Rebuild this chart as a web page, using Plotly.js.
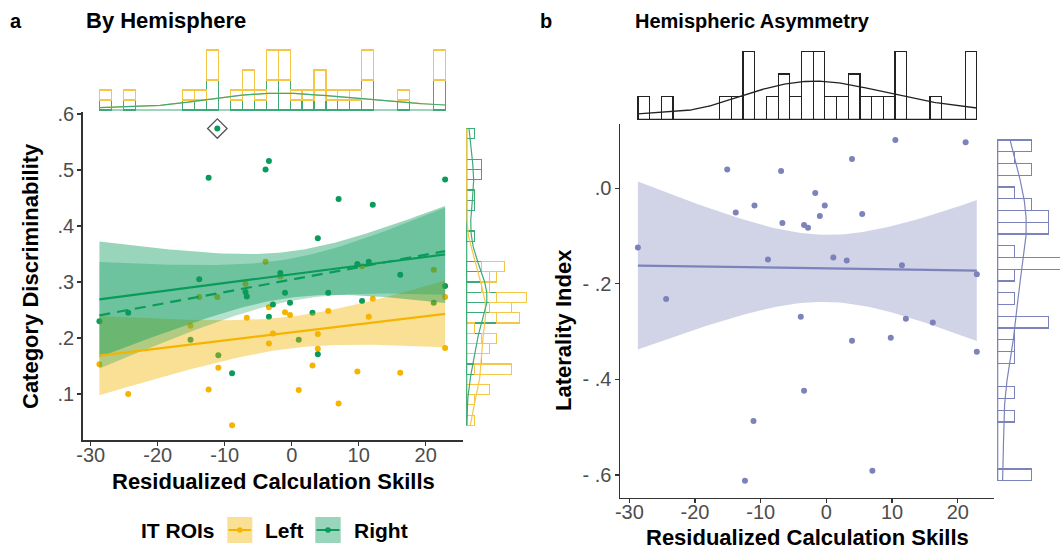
<!DOCTYPE html>
<html><head><meta charset="utf-8">
<script src="https://cdn.plot.ly/plotly-3.0.1.min.js"></script>
<style>html,body{margin:0;padding:0;background:#fff}#chart{width:1060px;height:551px}</style>
</head><body><div id="chart"></div>
<script>
// ---------------- data ----------------
const calcSkills = [-28.7,-24.4,-15.1,-13.8,-12.4,-11.1,-10.95,-8.9,-6.9,-6.7,-3.9,-3.4,-3.4,-2.8,-1.7,-1.0,-0.25,1.05,3.1,3.9,3.9,5.45,7.0,9.8,10.5,11.5,12.1,16.2,21.2,22.9,22.9];
const leftIT  = [0.153,0.100,0.222,0.273,0.108,0.273,0.147,0.044,0.297,0.236,0.336,0.255,0.190,0.208,0.310,0.246,0.241,0.107,0.151,0.207,0.181,0.248,0.083,0.140,0.328,0.238,0.270,0.138,0.322,0.273,0.182];
const rightIT = [0.230,0.245,0.197,0.305,0.486,0.574,0.169,0.137,0.282,0.274,0.501,0.516,0.238,0.260,0.316,0.281,0.263,0.197,0.245,0.171,0.378,0.281,0.448,0.332,0.266,0.336,0.438,0.313,0.263,0.293,0.483];
const laterality = [-0.124,-0.232,0.039,-0.051,-0.612,-0.487,-0.036,-0.149,0.036,-0.073,-0.269,-0.424,-0.077,-0.083,-0.010,-0.058,-0.036,-0.145,-0.151,0.061,-0.319,-0.054,-0.591,-0.313,0.101,-0.161,-0.273,-0.281,0.096,-0.180,-0.342];
const outlierIndex = 5;
const groupNames = ['Left','Right'];
const xTickVals = [-30,-20,-10,0,10,20];
const xTickText = ['-30','-20','-10','0','10','20'];
const discTickVals = [0.1,0.2,0.3,0.4,0.5,0.6];
const discTickText = ['.1','.2','.3','.4','.5','.6'];
const liTickVals = [0,-0.2,-0.4,-0.6];
const liTickText = ['.0','- .2','- .4','- .6'];
const nBins = 29;

// ---------------- styling ----------------
const YEL = '#F4B400', GRN = '#0A9B5B', LAV = '#7C83BA';
const YEL_RIB = 'rgba(244,180,0,0.42)', GRN_RIB = 'rgba(10,155,91,0.42)', LAV_RIB = 'rgba(124,131,186,0.35)';
const YEL_OUT = '#F6C646', GRN_OUT = '#3DAA78';
const FONT = 'Liberation Sans, Arial, Helvetica, sans-serif';
const W = 1060, H = 551;
const fx = p => p / W, fy = p => 1 - p / H;

// ---------------- stats helpers ----------------
const mean = a => a.reduce((s, v) => s + v, 0) / a.length;
function quantile7(a, p) { const s = [...a].sort((u, v) => u - v); const h = (s.length - 1) * p; const lo = Math.floor(h); return s[lo] + (h - lo) * ((s[Math.min(lo + 1, s.length - 1)]) - s[lo]); }
function bwNrd0(a) {
  const m = mean(a); const sd = Math.sqrt(a.reduce((s, v) => s + (v - m) ** 2, 0) / (a.length - 1));
  const iqr = quantile7(a, 0.75) - quantile7(a, 0.25);
  let lo = Math.min(sd, iqr / 1.34); if (!(lo > 0)) lo = sd || 1;
  return 0.9 * lo * Math.pow(a.length, -0.2);
}
function kde(a, from, to, n) {
  const bw = bwNrd0(a), g = [], d = [];
  for (let i = 0; i < n; i++) {
    const x = from + (to - from) * i / (n - 1); let s = 0;
    for (const v of a) { const z = (x - v) / bw; s += Math.exp(-0.5 * z * z); }
    g.push(x); d.push(s / (a.length * bw * Math.sqrt(2 * Math.PI)));
  }
  return { g, d };
}
function lmFit(x, y, tq) {
  const n = x.length, mx = mean(x), my = mean(y);
  let sxx = 0, sxy = 0; for (let i = 0; i < n; i++) { sxx += (x[i] - mx) ** 2; sxy += (x[i] - mx) * (y[i] - my); }
  const b = sxy / sxx, a = my - b * mx;
  let rss = 0; for (let i = 0; i < n; i++) rss += (y[i] - a - b * x[i]) ** 2;
  const s2 = rss / (n - 2);
  const lo = Math.min(...x), hi = Math.max(...x);
  const g = [], f = [], up = [], dn = [];
  for (let i = 0; i < 80; i++) {
    const xv = lo + (hi - lo) * i / 79, fv = a + b * xv;
    const se = Math.sqrt(s2 * (1 / n + (xv - mx) ** 2 / sxx));
    g.push(xv); f.push(fv); up.push(fv + tq * se); dn.push(fv - tq * se);
  }
  return { g, f, up, dn };
}
const ribbon = (fit) => ({ x: fit.g.concat([...fit.g].reverse()), y: fit.up.concat([...fit.dn].reverse()) });

// ---------------- computed layers ----------------
const xMin = Math.min(...calcSkills), xMax = Math.max(...calcSkills);
const xBinSize = (xMax - xMin) / nBins * (1 + 1e-7);
const discAll = leftIT.concat(rightIT);
const dMin = Math.min(...discAll), dMax = Math.max(...discAll);
const dBinSize = (dMax - dMin) / nBins * (1 + 1e-7);
const lMin = Math.min(...laterality), lMax = Math.max(...laterality);
const lBinSize = (lMax - lMin) / nBins * (1 + 1e-7);

const xNoOut = calcSkills.filter((_, i) => i !== outlierIndex);
const rNoOut = rightIT.filter((_, i) => i !== outlierIndex);
const fitL = lmFit(calcSkills, leftIT, 2.0452);
const fitR = lmFit(calcSkills, rightIT, 2.0452);
const fitR2 = lmFit(xNoOut, rNoOut, 2.0484);
const fitLI = lmFit(calcSkills, laterality, 2.0452);

const kX = kde(calcSkills, xMin, xMax, 200);
const kL = kde(leftIT, dMin, dMax, 200);
const kR = kde(rightIT, dMin, dMax, 200);
const kLI = kde(laterality, lMin, lMax, 200);

const N = calcSkills.length;
const densPerCountX = 1 / (N * xBinSize);
const densPerCountD = 1 / (N * dBinSize);
const densPerCountL = 1 / (N * lBinSize);

// ---------------- traces ----------------
const noLine = { width: 0 };
const traces = [
  // panel a points
  { type: 'scatter', mode: 'markers', x: calcSkills, y: leftIT, xaxis: 'x', yaxis: 'y', marker: { color: YEL, size: 6 } },
  { type: 'scatter', mode: 'markers', x: calcSkills, y: rightIT, xaxis: 'x', yaxis: 'y', marker: { color: GRN, size: 6 } },
  // ribbons
  Object.assign({ type: 'scatter', mode: 'lines', fill: 'toself', fillcolor: YEL_RIB, line: noLine, xaxis: 'x', yaxis: 'y' }, ribbon(fitL)),
  Object.assign({ type: 'scatter', mode: 'lines', fill: 'toself', fillcolor: GRN_RIB, line: noLine, xaxis: 'x', yaxis: 'y' }, ribbon(fitR)),
  Object.assign({ type: 'scatter', mode: 'lines', fill: 'toself', fillcolor: 'rgba(10,155,91,0.30)', line: noLine, xaxis: 'x', yaxis: 'y' }, ribbon(fitR2)),
  // fit lines
  { type: 'scatter', mode: 'lines', x: fitL.g, y: fitL.f, xaxis: 'x', yaxis: 'y', line: { color: YEL, width: 2.2 } },
  { type: 'scatter', mode: 'lines', x: fitR.g, y: fitR.f, xaxis: 'x', yaxis: 'y', line: { color: GRN, width: 2.2 } },
  { type: 'scatter', mode: 'lines', x: fitR2.g, y: fitR2.f, xaxis: 'x', yaxis: 'y', line: { color: GRN, width: 2.2, dash: '11px,7px' } },
  // outlier marker
  { type: 'scatter', mode: 'markers', x: [calcSkills[outlierIndex]], y: [rightIT[outlierIndex]], xaxis: 'x', yaxis: 'y', marker: { symbol: 'diamond-open', size: 15, color: '#555', line: { width: 1.3, color: '#555' } } },

  // panel a top marginal (stacked: Right bottom, Left on top)
  { type: 'histogram', x: calcSkills, xaxis: 'x3', yaxis: 'y3', histnorm: 'probability density', xbins: { start: xMin, end: xMax, size: xBinSize }, marker: { color: 'rgba(0,0,0,0)', line: { color: GRN_OUT, width: 1.2 } } },
  { type: 'histogram', x: calcSkills, xaxis: 'x3', yaxis: 'y3', histnorm: 'probability density', xbins: { start: xMin, end: xMax, size: xBinSize }, marker: { color: 'rgba(0,0,0,0)', line: { color: YEL_OUT, width: 1.2 } } },
  { type: 'scatter', mode: 'lines', x: [xMin, xMax], y: [0, 0], xaxis: 'x3', yaxis: 'y3', line: { color: GRN_OUT, width: 1.2 } },
  { type: 'scatter', mode: 'lines', x: kX.g, y: kX.d, xaxis: 'x3', yaxis: 'y3', line: { color: YEL_OUT, width: 1.2 } },
  { type: 'scatter', mode: 'lines', x: kX.g, y: kX.d, xaxis: 'x3', yaxis: 'y3', line: { color: GRN_OUT, width: 1.2 } },

  // panel a right marginal
  { type: 'histogram', y: rightIT, orientation: 'h', xaxis: 'x4', yaxis: 'y4', histnorm: 'probability density', ybins: { start: dMin, end: dMax, size: dBinSize }, marker: { color: 'rgba(0,0,0,0)', line: { color: GRN_OUT, width: 1.2 } } },
  { type: 'histogram', y: leftIT, orientation: 'h', xaxis: 'x4', yaxis: 'y4', histnorm: 'probability density', ybins: { start: dMin, end: dMax, size: dBinSize }, marker: { color: 'rgba(0,0,0,0)', line: { color: YEL_OUT, width: 1.2 } } },
  { type: 'scatter', mode: 'lines', x: [0, 0], y: [dMin, dMax], xaxis: 'x4', yaxis: 'y4', line: { color: GRN_OUT, width: 1.2 } },
  { type: 'scatter', mode: 'lines', x: kL.d, y: kL.g, xaxis: 'x4', yaxis: 'y4', line: { color: YEL_OUT, width: 1.2 } },
  { type: 'scatter', mode: 'lines', x: kR.d, y: kR.g, xaxis: 'x4', yaxis: 'y4', line: { color: GRN_OUT, width: 1.2 } },

  // panel b
  { type: 'scatter', mode: 'markers', x: calcSkills, y: laterality, xaxis: 'x2', yaxis: 'y2', marker: { color: LAV, size: 6 } },
  Object.assign({ type: 'scatter', mode: 'lines', fill: 'toself', fillcolor: LAV_RIB, line: noLine, xaxis: 'x2', yaxis: 'y2' }, ribbon(fitLI)),
  { type: 'scatter', mode: 'lines', x: fitLI.g, y: fitLI.f, xaxis: 'x2', yaxis: 'y2', line: { color: LAV, width: 2.2 } },

  // panel b top marginal
  { type: 'histogram', x: calcSkills, xaxis: 'x5', yaxis: 'y5', histnorm: 'probability density', xbins: { start: xMin, end: xMax, size: xBinSize }, marker: { color: 'rgba(0,0,0,0)', line: { color: '#222', width: 1.2 } } },
  { type: 'scatter', mode: 'lines', x: [xMin, xMax], y: [0, 0], xaxis: 'x5', yaxis: 'y5', line: { color: '#222', width: 1.2 } },
  { type: 'scatter', mode: 'lines', x: kX.g, y: kX.d, xaxis: 'x5', yaxis: 'y5', line: { color: '#222', width: 1.3 } },

  // panel b right marginal
  { type: 'histogram', y: laterality, orientation: 'h', xaxis: 'x6', yaxis: 'y6', histnorm: 'probability density', ybins: { start: lMin, end: lMax, size: lBinSize }, marker: { color: 'rgba(0,0,0,0)', line: { color: LAV, width: 1.2 } } },
  { type: 'scatter', mode: 'lines', x: [0, 0], y: [lMin, lMax], xaxis: 'x6', yaxis: 'y6', line: { color: LAV, width: 1.2 } },
  { type: 'scatter', mode: 'lines', x: kLI.d, y: kLI.g, xaxis: 'x6', yaxis: 'y6', line: { color: LAV, width: 1.2 } }
];

// ---------------- layout ----------------
const tickFont = { family: FONT, size: 20, color: '#4D4D4D' };
const mainAxis = (domain, range, tv, tt, anchor, standoff) => ({
  domain, range, anchor, tickvals: tv, ticktext: tt, tickfont: tickFont, ticklabelstandoff: standoff,
  showline: true, linecolor: '#333', linewidth: 1.5, ticks: 'outside', ticklen: 4, tickcolor: '#333', tickwidth: 1.3,
  showgrid: false, zeroline: false, fixedrange: true
});
const hidden = (domain, range, anchor) => ({ domain, range, anchor, visible: false, showgrid: false, zeroline: false, fixedrange: true });

// panel a main: x 82.7..463 px (x=0 at 291.7, 6.7 px/unit); y 112..440 px (0.1 at 394, 560 px/unit)
const axA = { x0: 82.7, x1: 463, zero: 291.7, ppu: 6.7 };
const rangeAX = [(axA.x0 - axA.zero) / axA.ppu, (axA.x1 - axA.zero) / axA.ppu];
const ayA = { y0: 440, y1: 112, ref: 394, refVal: 0.1, ppu: 560 };
const rangeAY = [ayA.refVal - (ayA.y0 - ayA.ref) / ayA.ppu, ayA.refVal + (ayA.ref - ayA.y1) / ayA.ppu];
// panel b main
const axB = { x0: 620, x1: 994, zero: 826.4, ppu: 6.568 };
const rangeBX = [(axB.x0 - axB.zero) / axB.ppu, (axB.x1 - axB.zero) / axB.ppu];
const ayB = { y0: 497.7, y1: 124, zero: 188.2, ppu: 478 };
const rangeBY = [-(ayB.y0 - ayB.zero) / ayB.ppu, (ayB.zero - ayB.y1) / ayB.ppu];

// marginals: baseline px, far px, px per count
const mTopA = { base: 110, far: 47, ppc: 10 };
const mRightA = { base: 466.7, far: 546, ppc: 7.5 };
const mTopB = { base: 119.3, far: 49, ppc: 22.7 };
const mRightB = { base: 997.7, far: 1060, ppc: 17 };
const mrange = (m, dpc) => [-1 / m.ppc * dpc, Math.abs(m.far - m.base) / m.ppc * dpc];

const ann = (text, xpx, ypx, opts) => Object.assign({ text, x: fx(xpx), y: fy(ypx), xref: 'paper', yref: 'paper', showarrow: false, xanchor: 'center', yanchor: 'middle', font: { family: FONT, size: 22, color: '#000', weight: 'bold' } }, opts || {});

const layout = {
  width: W, height: H, margin: { l: 0, r: 0, t: 0, b: 0 }, paper_bgcolor: '#fff', plot_bgcolor: 'rgba(0,0,0,0)',
  showlegend: false, hovermode: false, barmode: 'stack', bargap: 0,
  font: { family: FONT },
  xaxis: mainAxis([fx(axA.x0), fx(axA.x1)], rangeAX, xTickVals, xTickText, 'y', -8),
  yaxis: mainAxis([fy(ayA.y0), fy(ayA.y1)], rangeAY, discTickVals, discTickText, 'x', -1),
  xaxis2: mainAxis([fx(axB.x0), fx(axB.x1)], rangeBX, xTickVals, xTickText, 'y2', -8),
  yaxis2: mainAxis([fy(ayB.y0), fy(ayB.y1)], rangeBY, liTickVals, liTickText, 'x2', -1),
  xaxis3: hidden([fx(axA.x0), fx(axA.x1)], rangeAX, 'y3'),
  yaxis3: hidden([fy(mTopA.base + 1), fy(mTopA.far)], mrange(mTopA, densPerCountX), 'x3'),
  xaxis4: hidden([fx(mRightA.base - 1), fx(mRightA.far)], mrange(mRightA, densPerCountD), 'y4'),
  yaxis4: hidden([fy(ayA.y0), fy(ayA.y1)], rangeAY, 'x4'),
  xaxis5: hidden([fx(axB.x0), fx(axB.x1)], rangeBX, 'y5'),
  yaxis5: hidden([fy(mTopB.base + 1), fy(mTopB.far)], mrange(mTopB, densPerCountX), 'x5'),
  xaxis6: hidden([fx(mRightB.base - 1), fx(mRightB.far)], mrange(mRightB, densPerCountL), 'y6'),
  yaxis6: hidden([fy(ayB.y0), fy(ayB.y1)], rangeBY, 'x6'),
  annotations: [
    ann('a', 16, 21, { font: { family: FONT, size: 20, color: '#000', weight: 'bold' } }),
    ann('By Hemisphere', 84, 21, { xanchor: 'left', font: { family: FONT, size: 22, color: '#000', weight: 'bold' } }),
    ann('b', 546, 21, { font: { family: FONT, size: 20, color: '#000', weight: 'bold' } }),
    ann('Hemispheric Asymmetry', 633, 21, { xanchor: 'left', font: { family: FONT, size: 20, color: '#000', weight: 'bold' } }),
    ann('Residualized Calculation Skills', 273, 481),
    ann('Residualized Calculation Skills', 807, 537),
    ann('Category Discriminability', 30, 276, { textangle: -90 }),
    ann('Laterality Index', 563, 330, { textangle: -90 }),
    ann('IT ROIs', 178, 530, { font: { family: FONT, size: 21, color: '#000', weight: 'bold' } }),
    ann(groupNames[0], 263, 530, { xanchor: 'left', font: { family: FONT, size: 21, color: '#000', weight: 'bold' } }),
    ann(groupNames[1], 352, 530, { xanchor: 'left', font: { family: FONT, size: 21, color: '#000', weight: 'bold' } })
  ],
  shapes: [
    { type: 'rect', xref: 'paper', yref: 'paper', x0: fx(227.3), x1: fx(252.3), y0: fy(543), y1: fy(517), fillcolor: YEL_RIB, line: { width: 0 } },
    { type: 'line', xref: 'paper', yref: 'paper', x0: fx(228.5), x1: fx(251), y0: fy(530), y1: fy(530), line: { color: YEL, width: 2 } },
    { type: 'circle', xref: 'paper', yref: 'paper', x0: fx(237), x1: fx(242.6), y0: fy(532.8), y1: fy(527.2), fillcolor: YEL, line: { width: 0 } },
    { type: 'rect', xref: 'paper', yref: 'paper', x0: fx(315.3), x1: fx(340.7), y0: fy(543), y1: fy(517), fillcolor: GRN_RIB, line: { width: 0 } },
    { type: 'line', xref: 'paper', yref: 'paper', x0: fx(316.5), x1: fx(339.5), y0: fy(530), y1: fy(530), line: { color: GRN, width: 2 } },
    { type: 'circle', xref: 'paper', yref: 'paper', x0: fx(325.2), x1: fx(330.8), y0: fy(532.8), y1: fy(527.2), fillcolor: GRN, line: { width: 0 } }
  ]
};

Plotly.newPlot('chart', traces, layout, { staticPlot: true, displayModeBar: false });
</script>
</body></html>
